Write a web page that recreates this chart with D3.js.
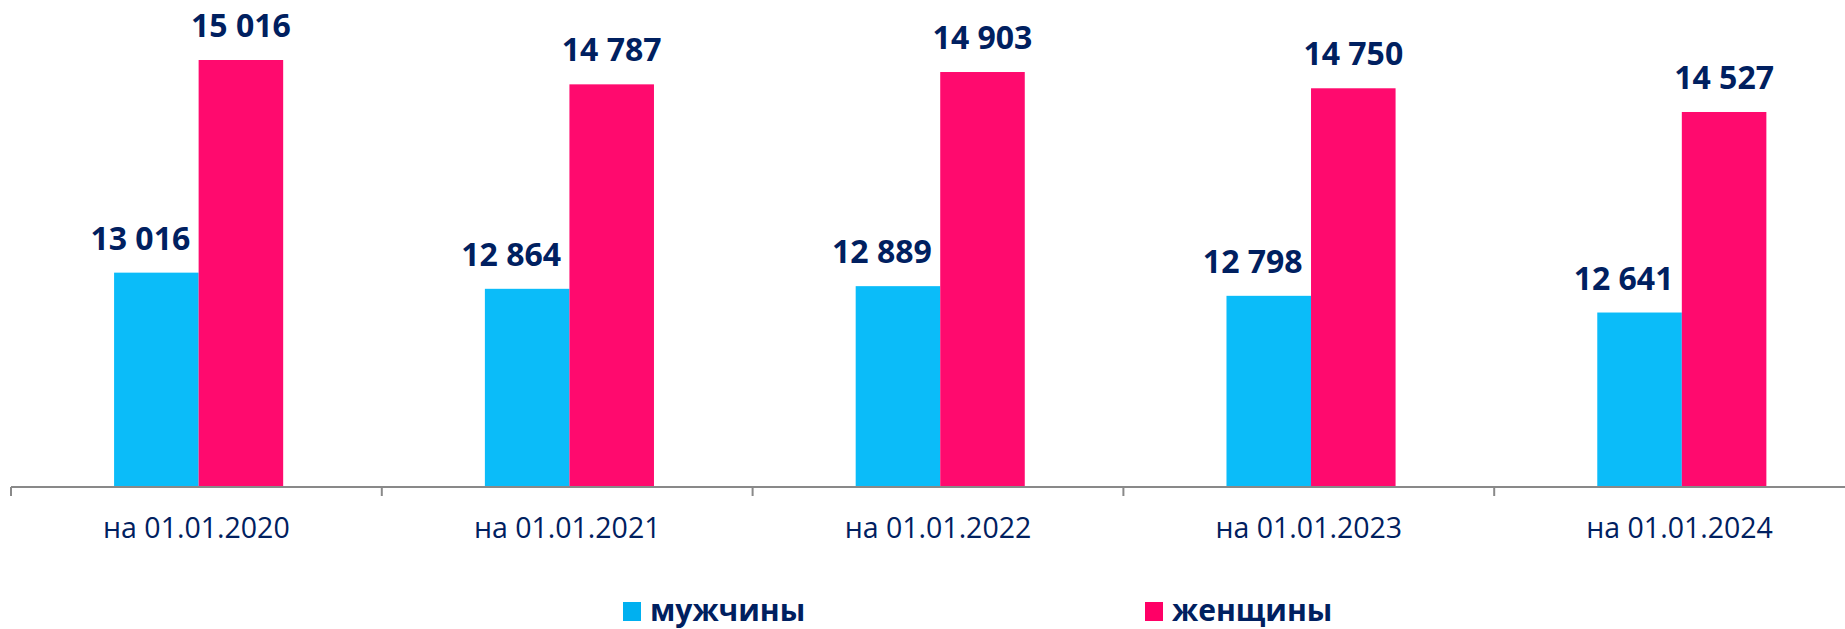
<!DOCTYPE html>
<html>
<head>
<meta charset="utf-8">
<script src="https://cdn.jsdelivr.net/npm/d3@7"></script>
<style>
  body { margin: 0; background: #fff; }
  text { font-family: "Open Sans", "Noto Sans", sans-serif; }
</style>
</head>
<body>
<div id="container"></div>
<script>
// данные
const categories = ["на 01.01.2020", "на 01.01.2021", "на 01.01.2022", "на 01.01.2023", "на 01.01.2024"];
const seriesNames = ["мужчины", "женщины"];
const men = [13016, 12864, 12889, 12798, 12641];
const women = [15016, 14787, 14903, 14750, 14527];

const WIDTH = 1845, HEIGHT = 629;
const colors = { "мужчины": "#0BBCF9", "женщины": "#FF0A6E" };
const legendColors = { "мужчины": "#00B0F0", "женщины": "#FF0066" };
const navy = "#002060";

const svg = d3.select("#container").append("svg")
    .attr("width", WIDTH).attr("height", HEIGHT);

const axisY = 487;

// шкалы
const x = d3.scaleBand()
    .domain(categories)
    .range([11, 11 + 5 * 370.8]);

const xSub = d3.scaleBand()
    .domain(seriesNames)
    .range([x.bandwidth() * 0.278, x.bandwidth() * 0.734]);

const y = d3.scaleLinear()
    .domain([11000, 15016])
    .range([axisY, 60]);

const fmt = v => d3.format(",")(v).replace(",", " ");

const rows = categories.map((c, i) => ({ cat: c, values: [
    { name: "мужчины", v: men[i] },
    { name: "женщины", v: women[i] }
] }));

// столбцы
const groups = svg.append("g").selectAll("g")
    .data(rows)
    .join("g")
    .attr("transform", d => `translate(${x(d.cat)},0)`);

groups.selectAll("rect")
    .data(d => d.values)
    .join("rect")
    .attr("x", d => xSub(d.name))
    .attr("width", xSub.bandwidth())
    .attr("y", d => y(d.v))
    .attr("height", d => axisY - y(d.v))
    .attr("fill", d => colors[d.name]);

groups.selectAll("text.val")
    .data(d => d.values)
    .join("text")
    .attr("class", "val")
    .attr("x", d => xSub(d.name) + xSub.bandwidth() / 2 + (d.name === "мужчины" ? -16 : 0))
    .attr("y", d => y(d.v) - 23)
    .attr("text-anchor", "middle")
    .attr("font-size", 32)
    .attr("font-weight", "bold")
    .attr("fill", navy)
    .text(d => fmt(d.v));

// ось X
svg.append("line")
    .attr("x1", 11).attr("x2", WIDTH)
    .attr("y1", axisY).attr("y2", axisY)
    .attr("stroke", "#898989").attr("stroke-width", 2);

svg.append("g").selectAll("line")
    .data(categories)
    .join("line")
    .attr("x1", d => x(d)).attr("x2", d => x(d))
    .attr("y1", axisY).attr("y2", axisY + 9)
    .attr("stroke", "#898989").attr("stroke-width", 2);

svg.append("g").selectAll("text")
    .data(categories)
    .join("text")
    .attr("x", d => x(d) + x.bandwidth() / 2)
    .attr("y", 538)
    .attr("text-anchor", "middle")
    .attr("font-size", 28.5)
    .attr("fill", navy)
    .text(d => d);

// легенда
const legendX = [623, 1145];
const legend = svg.append("g").selectAll("g")
    .data(seriesNames)
    .join("g")
    .attr("transform", (d, i) => `translate(${legendX[i]},602)`);

legend.append("rect")
    .attr("width", 18).attr("height", 19)
    .attr("fill", d => legendColors[d]);

legend.append("text")
    .attr("x", 27).attr("y", 19)
    .attr("font-size", 30)
    .attr("font-weight", "bold")
    .attr("fill", navy)
    .text(d => d);
</script>
</body>
</html>
